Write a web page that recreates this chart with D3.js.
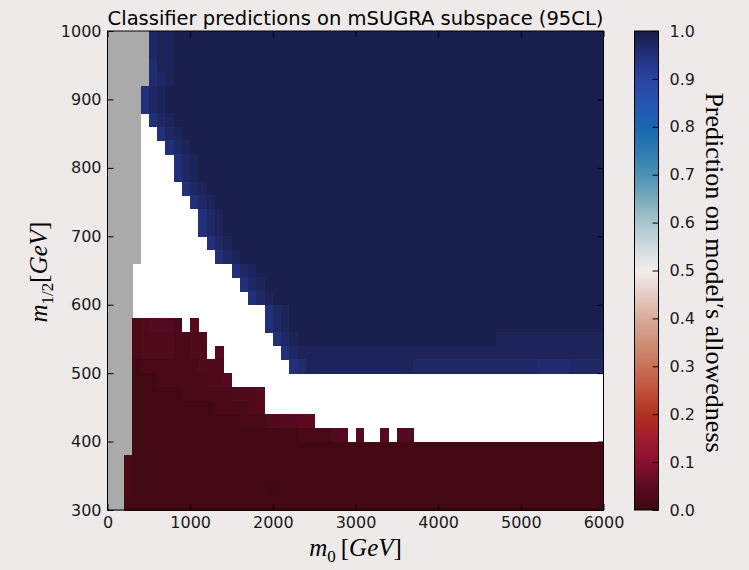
<!DOCTYPE html>
<html><head><meta charset="utf-8">
<script src="https://cdn.jsdelivr.net/npm/d3@7"></script>
<style>html,body{margin:0;padding:0;background:#efeaea;} svg{display:block;}</style>
</head><body>
<svg id="chart" width="749" height="570"></svg>
<script>
// ---------------- data ----------------
// lower edges of the m0 bins (GeV), 100 GeV wide
const m0Bins = [0,100,200,300,400,500,600,700,800,900,1000,1100,1200,1300,1400,1500,1600,1700,1800,1900,
  2000,2100,2200,2300,2400,2500,2600,2700,2800,2900,3000,3100,3200,3300,3400,3500,3600,3700,3800,3900,
  4000,4100,4200,4300,4400,4500,4600,4700,4800,4900,5000,5100,5200,5300,5400,5500,5600,5700,5800,5900];
// lower edges of the m1/2 bins (GeV), 20 GeV tall, listed top to bottom
const m12Bins = [980,960,940,920,900,880,860,840,820,800,780,760,740,720,700,680,660,640,620,600,
  580,560,540,520,500,480,460,440,420,400,380,360,340,320,300];
// prediction per cell, one string per m1/2 row (top to bottom), one char per m0 bin
// '#' = excluded (grey), '.' = no prediction (white),
// '0'..'9' = prediction 0.00..0.09, 'a'..'i' = prediction 0.99..0.91
const predictionRows = [
  "#####cbbaa aaaaaaaaaa aaaaaaaaaa aaaaaaaaaa aaaaaaaaaa aaaaaaaaaa",
  "#####cbbaa aaaaaaaaaa aaaaaaaaaa aaaaaaaaaa aaaaaaaaaa aaaaaaaaaa",
  "#####dbbaa aaaaaaaaaa aaaaaaaaaa aaaaaaaaaa aaaaaaaaaa aaaaaaaaaa",
  "#####dcbaa aaaaaaaaaa aaaaaaaaaa aaaaaaaaaa aaaaaaaaaa aaaaaaaaaa",
  "####ecbaaa aaaaaaaaaa aaaaaaaaaa aaaaaaaaaa aaaaaaaaaa aaaaaaaaaa",
  "####ecbaaa aaaaaaaaaa aaaaaaaaaa aaaaaaaaaa aaaaaaaaaa aaaaaaaaaa",
  "####.ecbaa aaaaaaaaaa aaaaaaaaaa aaaaaaaaaa aaaaaaaaaa aaaaaaaaaa",
  "####..ecba aaaaaaaaaa aaaaaaaaaa aaaaaaaaaa aaaaaaaaaa aaaaaaaaaa",
  "####...ecb aaaaaaaaaa aaaaaaaaaa aaaaaaaaaa aaaaaaaaaa aaaaaaaaaa",
  "####....ec baaaaaaaaa aaaaaaaaaa aaaaaaaaaa aaaaaaaaaa aaaaaaaaaa",
  "####....ec baaaaaaaaa aaaaaaaaaa aaaaaaaaaa aaaaaaaaaa aaaaaaaaaa",
  "####.....e cbaaaaaaaa aaaaaaaaaa aaaaaaaaaa aaaaaaaaaa aaaaaaaaaa",
  "####...... ecbaaaaaaa aaaaaaaaaa aaaaaaaaaa aaaaaaaaaa aaaaaaaaaa",
  "####...... .ecbaaaaaa aaaaaaaaaa aaaaaaaaaa aaaaaaaaaa aaaaaaaaaa",
  "####...... .ecbaaaaaa aaaaaaaaaa aaaaaaaaaa aaaaaaaaaa aaaaaaaaaa",
  "####...... ..ecbaaaaa aaaaaaaaaa aaaaaaaaaa aaaaaaaaaa aaaaaaaaaa",
  "####...... ...ecbaaaa aaaaaaaaaa aaaaaaaaaa aaaaaaaaaa aaaaaaaaaa",
  "###....... .....ecbaa aaaaaaaaaa aaaaaaaaaa aaaaaaaaaa aaaaaaaaaa",
  "###....... ......ecba aaaaaaaaaa aaaaaaaaaa aaaaaaaaaa aaaaaaaaaa",
  "###....... .......ecb aaaaaaaaaa aaaaaaaaaa aaaaaaaaaa aaaaaaaaaa",
  "###....... .........e cbaaaaaaaa aaaaaaaaaa aaaaaaaaaa aaaaaaaaaa",
  "###234442. 4........e cbaaaaaaaa aaaaaaaaaa aaaaaaaaaa aaaaaaaaaa",
  "###2333322 33........ ecbaaaaaaa aaaaaaaaaa aaaaaaabbb bbbbbbbbbb",
  "###2333322 33.4...... .ecbbbbbbb bbbbbbbbbb bbbbbbbbbb bbbbbbbbbb",
  "###1222222 2333...... ..edbbbbbb bbbbbbbccc cccccccccc ccddddcccc",
  "###1112222 22334..... .......... .......... .......... ..........",
  "###1111112 222223334. .......... .......... .......... ..........",
  "###1111111 111222234. .......... .......... .......... ..........",
  "###1111111 1111112223 34455..... .......... .......... ..........",
  "###1111111 1111111111 111222234. 4..4.44... .......... ..........",
  "###1111111 1111111111 1111111111 1111111111 1111111111 1111111111",
  "##21111111 1111111111 1111111111 1111111111 1111111111 1111111111",
  "##21111111 1111111111 1111111111 1111111111 1111111111 1111111111",
  "##21111111 1111111110 1111111111 1111111111 1111111111 1111111111",
  "##11111111 1111111111 1111111111 1111111111 1111111111 1111111111"
];
const xTicks = [0,1000,2000,3000,4000,5000,6000];
const yTicks = [300,400,500,600,700,800,900,1000];
const cbTicks = [0.0,0.1,0.2,0.3,0.4,0.5,0.6,0.7,0.8,0.9,1.0];
const titleText = "Classifier predictions on mSUGRA subspace (95CL)";
const cbLabel = "Prediction on model\u2032s allowedness";
// colormap (cmocean "balance", reversed): prediction -> colour
const cmapStops = [0,0.05,0.1,0.15,0.2,0.25,0.3,0.35,0.4,0.45,0.5,0.55,0.6,0.65,0.7,0.75,0.8,0.85,0.9,0.95,1.0];
const cmapColors = ["#3c0912","#5c0a22","#8a1030","#a01c2e","#b2311f","#c1523a","#c87355","#d08f77","#d9ab9a","#e6cdc4",
  "#f1edec","#cfdadd","#a8c6cd","#78aabb","#4a91b3","#2b7bb0","#1767b0","#2555b0","#2a44a0","#22307a","#181c43"];

// ---------------- decode ----------------
function decode(ch){
  if(ch === '#') return {kind:'excluded'};
  if(ch === '.') return {kind:'none'};
  if(ch >= '0' && ch <= '9') return {kind:'value', v:(+ch)/100};
  return {kind:'value', v:1 - (ch.charCodeAt(0) - 96)/100};
}
const cells = [];
predictionRows.forEach((row, ri) => {
  const chars = row.replace(/ /g,'').split('');
  chars.forEach((ch, ci) => {
    const d = decode(ch);
    cells.push({m0:m0Bins[ci], m12:m12Bins[ri], ...d});
  });
});

// ---------------- layout ----------------
const svg = d3.select('#chart');
const L = 107.5, R = 603.5, T = 31, B = 510;
const x = d3.scaleLinear().domain([0,6000]).range([L,R]);
const y = d3.scaleLinear().domain([300,1000]).range([B,T]);
const cmap = d3.scaleLinear().domain(cmapStops).range(cmapColors).interpolate(d3.interpolateRgb).clamp(true);
const dm0 = 100, dm12 = 20;

svg.append('rect').attr('x',L).attr('y',T).attr('width',R-L).attr('height',B-T).attr('fill','#ffffff');

svg.append('g').attr('shape-rendering','crispEdges')
  .selectAll('rect').data(cells.filter(c => c.kind !== 'none')).join('rect')
  .attr('x', d => x(d.m0))
  .attr('y', d => y(d.m12 + dm12))
  .attr('width', d => x(d.m0 + dm0) - x(d.m0) + 0.5)
  .attr('height', d => y(d.m12) - y(d.m12 + dm12) + 0.5)
  .attr('fill', d => d.kind === 'excluded' ? '#aaaaaa' : cmap(d.v));

// axes
const tickLen = 6;
const fontTick = "16px 'DejaVu Sans'";
const gx = svg.append('g').attr('transform',`translate(0,${B})`)
  .call(d3.axisBottom(x).tickValues(xTicks).tickFormat(d3.format('d')).tickSizeInner(-tickLen).tickSizeOuter(0).tickPadding(7));
const gxt = svg.append('g').attr('transform',`translate(0,${T})`)
  .call(d3.axisTop(x).tickValues(xTicks).tickFormat('').tickSizeInner(-tickLen).tickSizeOuter(0));
const gy = svg.append('g').attr('transform',`translate(${L},0)`)
  .call(d3.axisLeft(y).tickValues(yTicks).tickFormat(d3.format('d')).tickSizeInner(-tickLen).tickSizeOuter(0).tickPadding(6));
const gyr = svg.append('g').attr('transform',`translate(${R},0)`)
  .call(d3.axisRight(y).tickValues(yTicks).tickFormat('').tickSizeInner(-tickLen).tickSizeOuter(0));
[gx,gxt,gy,gyr].forEach(g => {
  g.select('.domain').remove();
  g.selectAll('line').attr('stroke','#000').attr('stroke-width',1);
  g.selectAll('text').style('font',fontTick).attr('fill','#1a1a1a');
});
svg.append('rect').attr('x',L).attr('y',T).attr('width',R-L).attr('height',B-T)
  .attr('fill','none').attr('stroke','#000').attr('stroke-width',1);

// title
svg.append('text').attr('x',(L+R)/2).attr('y',25).attr('text-anchor','middle')
  .style('font',"19.5px 'DejaVu Sans'").attr('fill','#000').text(titleText);

// axis labels (math style)
const serif = "'Liberation Serif','DejaVu Serif',serif";
function mathLabel(g, sub, spaced){
  const t = g.append('text').attr('text-anchor','middle').style('font-family',serif).style('font-size','25px').attr('fill','#000');
  t.append('tspan').style('font-style','italic').text('m');
  t.append('tspan').style('font-size','17px').attr('dy',6).text(sub);
  t.append('tspan').attr('dy',-6).text((spaced ? '\u2009' : '') + '[');
  t.append('tspan').style('font-style','italic').text('GeV');
  t.append('tspan').text(']');
  return t;
}
mathLabel(svg.append('g').attr('transform',`translate(${(L+R)/2},556)`), '0', true);
mathLabel(svg.append('g').attr('transform',`translate(47,272) rotate(-90)`), '1/2', false);

// colorbar
const cbL = 634.5, cbR = 658.5;
const cy = d3.scaleLinear().domain([0,1]).range([B,T]);
const defs = svg.append('defs');
const grad = defs.append('linearGradient').attr('id','cbgrad').attr('x1',0).attr('y1',1).attr('x2',0).attr('y2',0);
d3.range(0,101).forEach(i => {
  const v = i/100;
  grad.append('stop').attr('offset', v).attr('stop-color', cmap(v));
});
svg.append('rect').attr('x',cbL).attr('y',T).attr('width',cbR-cbL).attr('height',B-T).attr('fill','url(#cbgrad)');
const gcb = svg.append('g').attr('transform',`translate(${cbR},0)`)
  .call(d3.axisRight(cy).tickValues(cbTicks).tickFormat(d3.format('.1f')).tickSizeInner(-tickLen).tickSizeOuter(0).tickPadding(11));
gcb.select('.domain').remove();
gcb.selectAll('line').attr('stroke','#000');
gcb.selectAll('text').style('font',fontTick).attr('fill','#1a1a1a');
svg.append('rect').attr('x',cbL).attr('y',T).attr('width',cbR-cbL).attr('height',B-T)
  .attr('fill','none').attr('stroke','#000').attr('stroke-width',1);
svg.append('text').attr('transform',`translate(706,272.5) rotate(90)`).attr('text-anchor','middle')
  .style('font-family',serif).style('font-size','26px').attr('fill','#000').text(cbLabel);
</script>
</body></html>
